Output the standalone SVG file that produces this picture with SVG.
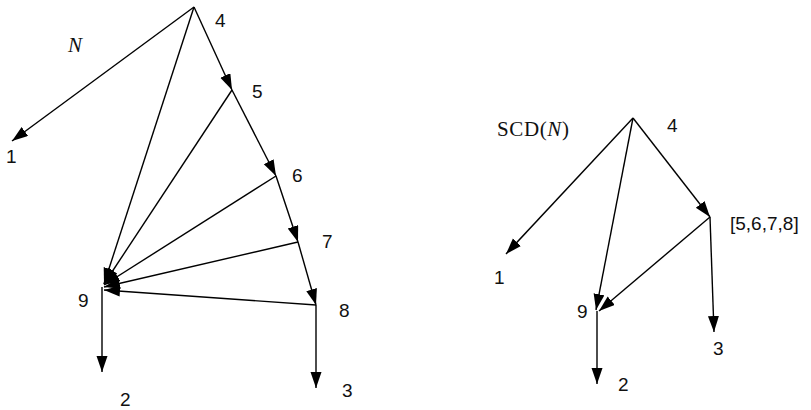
<svg xmlns="http://www.w3.org/2000/svg" width="811" height="410" viewBox="0 0 811 410">
<style>
.e{stroke:#000;stroke-width:1.4;fill:none;marker-end:url(#ah)}
.l{font-family:"Liberation Sans",Arial,sans-serif;font-size:19px;fill:#111}
.s{font-family:"Liberation Serif","Times New Roman",serif;font-size:21px;fill:#111}
</style>
<defs>
<marker id="ah" markerUnits="userSpaceOnUse" markerWidth="18" markerHeight="12" refX="16" refY="5.5" orient="auto">
<path d="M0,0 L16,5.5 L0,11 z" fill="#000"/>
</marker>
</defs>
<rect width="811" height="410" fill="#fff"/>
<g id="connectors">
<line class="e" x1="194" y1="7" x2="12" y2="141"/>
<line class="e" x1="194" y1="7" x2="232" y2="90"/>
<line class="e" x1="232" y1="90" x2="276" y2="176"/>
<line class="e" x1="276" y1="176" x2="298" y2="242"/>
<line class="e" x1="298" y1="242" x2="316" y2="305"/>
<line class="e" x1="316" y1="305" x2="316" y2="388"/>
<line class="e" x1="102" y1="287" x2="102" y2="372"/>
<line class="e" x1="194" y1="7" x2="104" y2="284"/>
<line class="e" x1="232" y1="90" x2="104" y2="284"/>
<line class="e" x1="276" y1="176" x2="104" y2="285"/>
<line class="e" x1="298" y1="242" x2="104" y2="287"/>
<line class="e" x1="316" y1="305" x2="104" y2="290"/>
<line class="e" x1="633" y1="118" x2="506" y2="254"/>
<line class="e" x1="633" y1="118" x2="596" y2="310"/>
<line class="e" x1="633" y1="118" x2="710" y2="217"/>
<line class="e" x1="710" y1="217" x2="599" y2="311"/>
<line class="e" x1="710" y1="217" x2="714" y2="332"/>
<line class="e" x1="597" y1="311" x2="597" y2="384"/>
</g>
<g id="label-N"><text class="s" x="68" y="52" font-style="italic" font-size="21">N</text></g>
<g id="n4"><text class="l" x="215" y="27">4</text></g>
<g id="n5"><text class="l" x="252" y="98">5</text></g>
<g id="n6"><text class="l" x="292" y="182">6</text></g>
<g id="n7"><text class="l" x="322" y="248">7</text></g>
<g id="n8"><text class="l" x="339" y="317">8</text></g>
<g id="n9"><text class="l" x="78" y="307">9</text></g>
<g id="n1"><text class="l" x="6" y="163">1</text></g>
<g id="n2"><text class="l" x="120" y="406">2</text></g>
<g id="n3"><text class="l" x="342" y="397">3</text></g>
<g id="label-SCD"><text class="s" x="497" y="136" textLength="72">SCD(<tspan font-style="italic">N</tspan>)</text></g>
<g id="r4"><text class="l" x="667" y="132">4</text></g>
<g id="r5678"><text class="l" x="730" y="230" font-size="20">[5,6,7,8]</text></g>
<g id="r1"><text class="l" x="494" y="284">1</text></g>
<g id="r9"><text class="l" x="577" y="318">9</text></g>
<g id="r3"><text class="l" x="713" y="355">3</text></g>
<g id="r2"><text class="l" x="618" y="391">2</text></g>
</svg>
